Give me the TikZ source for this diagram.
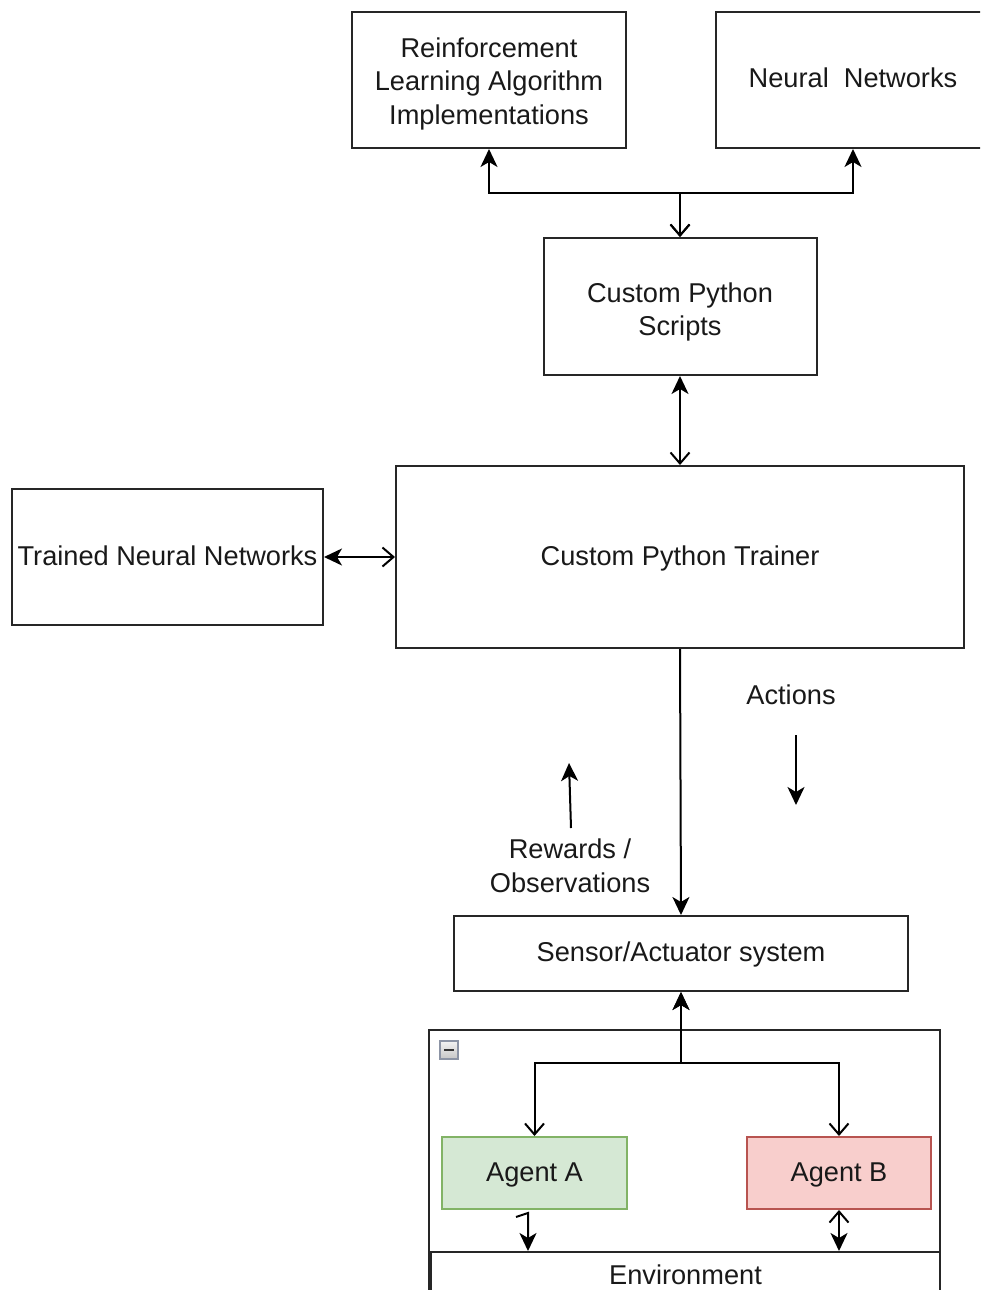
\documentclass[tikz,border=0pt]{standalone}
\usepackage{fontspec}
\setmainfont{Liberation Sans}
\usetikzlibrary{arrows.meta}
\definecolor{agentAfill}{RGB}{213,232,212}
\definecolor{agentAline}{RGB}{130,179,102}
\definecolor{agentBfill}{RGB}{248,206,204}
\definecolor{agentBline}{RGB}{184,84,80}
\definecolor{iconline}{RGB}{140,148,165}
\begin{document}
\begin{tikzpicture}[x=1pt,y=-1pt,
  line width=2pt,
  every node/.style={font=\fontsize{27.2}{33.5}\selectfont, text=black!90, align=center, inner sep=0pt},
  box/.style={draw=black!85, rectangle, line width=2pt, text height=20pt, text depth=4pt},
  filled/.tip={Stealth[length=18pt,width=17pt,inset=5pt]},
  opentip/.tip={Straight Barb[length=11pt,width=19pt,line width=2pt]},
  conn/.style={draw=black, line width=2pt},
]
\useasboundingbox (0,0) rectangle (980,1290);
\clip (0,0) rectangle (980,1290);
\fill[white] (0,0) rectangle (980,1290);

% top row
\node[box, minimum width=274pt, minimum height=136pt] (rl) at (489,80) {};
\node (rltext) at (489,83.5) {Reinforcement\\Learning Algorithm\\Implementations};
\node[box, minimum width=274pt, minimum height=136pt] (nn) at (853,80)
  {Neural\ \ Networks};

% scripts and trainer
\node[box, minimum width=273pt, minimum height=137pt] (scripts) at (680,306.5) {};
\node (scriptstext) at (680,312) {Custom Python\\Scripts};
\node[box, minimum width=568pt, minimum height=182pt] (trainer) at (680,557)
  {Custom Python Trainer};
\node[box, minimum width=311pt, minimum height=136pt] (tnn) at (167.5,557)
  {Trained Neural Networks};

% sensor / actuator layer
\node[box, minimum width=454pt, minimum height=75pt] (sensor) at (681,953.5)
  {Sensor/Actuator system};

% environment container
\node[box, minimum width=511pt, minimum height=290pt] (container) at (684.5,1175) {};
\node[box, minimum width=509pt, minimum height=48pt] (env) at (685.5,1276) {Environment};
\node[draw=iconline, line width=1.2pt, top color=gray!10, bottom color=gray!45,
      minimum width=18pt, minimum height=18pt] (collapse) at (449,1050) {};
\draw[black!80, line width=2.5pt] ([xshift=-5pt]collapse.center) -- ([xshift=5pt]collapse.center);

\node[box, draw=agentAline, fill=agentAfill,
      minimum width=185pt, minimum height=72pt] (agentA) at (534.5,1173) {Agent A};
\node[box, draw=agentBline, fill=agentBfill,
      minimum width=184pt, minimum height=72pt] (agentB) at (839,1173) {Agent B};

% junctions
\coordinate (jt) at (680,193);
\coordinate (jb) at (681,1063);

% connectors
\draw[conn, {opentip}-{filled}] (scripts.north) -- (jt) -| (rl.south);
\draw[conn, {opentip}-{filled}] (scripts.north) -- (jt) -| (nn.south);
\draw[conn, {filled}-{opentip}] (scripts.south) -- (trainer.north);
\draw[conn, {filled}-{opentip}] (tnn.east) -- (trainer.west);
\draw[conn, -{filled}] (trainer.south) -- (sensor.north);

\draw[conn, {filled}-{opentip}] (sensor.south) -- (jb) -| (agentA.north);
\draw[conn, {filled}-{opentip}] (sensor.south) -- (jb) -| (agentB.north);

\coordinate (aTop) at ([xshift=-6.5pt]agentA.south);
\draw[conn, -{filled}] ([xshift=-12pt,yshift=-7pt]aTop) -- ([yshift=-3pt]aTop) -- (aTop |- env.north);
\draw[conn, {opentip}-{filled}] (agentB.south) -- (agentB.south |- env.north);

% flow labels
\node (actions) at (791,695) {Actions};
\coordinate (actS) at (796,735);
\coordinate (actE) at (796,805);
\draw[conn, -{filled}] (actS) -- (actE);

\node (rewards) at (570,866) {Rewards /\\Observations};
\coordinate (rewS) at (571,828);
\coordinate (rewE) at (569,763);
\draw[conn, -{filled}] (rewS) -- (rewE);
\end{tikzpicture}
\end{document}
